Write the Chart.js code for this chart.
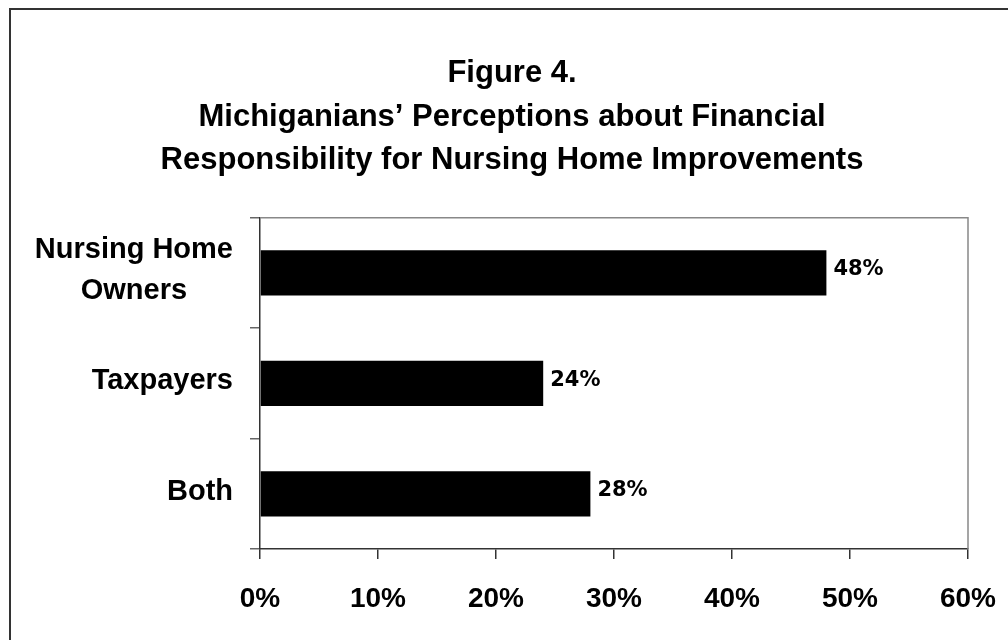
<!DOCTYPE html>
<html>
<head>
<meta charset="utf-8">
<title>Figure 4</title>
<script src="https://cdn.jsdelivr.net/npm/chart.js@4.4.1/dist/chart.umd.min.js"></script>
<style>
    html, body { margin: 0; padding: 0; background: #fff; }
    canvas { display: block; }
</style>
</head>
<body>
<canvas id="figure-chart" width="1008" height="640"></canvas>
<script>
// Chart data
const categories = [['Nursing Home', 'Owners'], ['Taxpayers'], ['Both']];
const shares = [48, 24, 28];
const xTicks = [0, 10, 20, 30, 40, 50, 60];
const titleLines = [
    'Figure 4.',
    'Michiganians\u2019 Perceptions about Financial',
    'Responsibility for Nursing Home Improvements'
];

const ARIAL = '"Liberation Sans", Arial, sans-serif';

/**
 * Frame around the figure, gray top/right edges of the plot,
 * category labels and value labels
 */
const decorations = {
    id: 'decorations',
    beforeDraw(chart) {
        const ctx = chart.ctx;
        ctx.save();
        ctx.fillStyle = '#fff';
        ctx.fillRect(0, 0, chart.width, chart.height);
        ctx.strokeStyle = '#333';
        ctx.lineWidth = 2;
        ctx.beginPath();
        ctx.moveTo(10, chart.height + 5);
        ctx.lineTo(10, 9);
        ctx.lineTo(chart.width + 5, 9);
        ctx.stroke();
        ctx.restore();
    },
    afterDraw(chart) {
        const ctx = chart.ctx;
        const area = chart.chartArea;
        const yScale = chart.scales.y;
        ctx.save();

        // gray top and right edges of the plot box
        ctx.strokeStyle = '#888';
        ctx.lineWidth = 1.5;
        ctx.beginPath();
        ctx.moveTo(area.left, area.top);
        ctx.lineTo(area.right, area.top);
        ctx.lineTo(area.right, area.bottom);
        ctx.stroke();

        // category labels: block right aligned, lines centred within it
        ctx.fillStyle = '#000';
        ctx.font = 'bold 29px ' + ARIAL;
        ctx.textAlign = 'center';
        ctx.textBaseline = 'middle';
        const labelRight = area.left - 27;
        const lineGap = 41;
        categories.forEach((lines, i) => {
            const widest = Math.max(...lines.map(l => ctx.measureText(l).width));
            const cx = labelRight - widest / 2;
            const cy = yScale.getPixelForValue(i) - 2;
            const start = cy - (lines.length - 1) * lineGap / 2;
            lines.forEach((l, j) => ctx.fillText(l, cx, start + j * lineGap));
        });

        // value labels next to the bars
        ctx.font = 'bold 21px "DejaVu Sans", Verdana, sans-serif';
        ctx.textAlign = 'left';
        const meta = chart.getDatasetMeta(0);
        meta.data.forEach((bar, i) => {
            ctx.fillText(shares[i] + '%', bar.x + 7, bar.y - 3);
        });
        ctx.restore();
    }
};

new Chart(document.getElementById('figure-chart'), {
    type: 'bar',
    data: {
        labels: categories.map(c => c.join(' ')),
        datasets: [{
            data: shares,
            backgroundColor: '#000',
            borderWidth: 0,
            barPercentage: 0.41,
            categoryPercentage: 1
        }]
    },
    options: {
        indexAxis: 'y',
        responsive: false,
        animation: false,
        layout: {
            padding: { left: 56, right: 40, top: 0, bottom: 0 }
        },
        plugins: {
            legend: { display: false },
            tooltip: { enabled: false },
            title: {
                display: true,
                text: titleLines,
                color: '#000',
                font: { family: ARIAL, size: 31, weight: 'bold', lineHeight: 1.4 },
                padding: { top: 52, bottom: 35.5 }
            }
        },
        scales: {
            x: {
                min: xTicks[0],
                max: xTicks[xTicks.length - 1],
                afterBuildTicks(scale) {
                    scale.ticks = xTicks.map(v => ({ value: v }));
                },
                afterFit(scale) {
                    scale.height = 91;
                    // edge labels may spill into the layout padding
                    scale.paddingLeft = 0;
                    scale.paddingRight = 0;
                },
                border: { display: true, color: '#333', width: 1.5 },
                grid: {
                    drawOnChartArea: false,
                    drawTicks: true,
                    tickLength: 10,
                    color: '#333',
                    lineWidth: 1.5
                },
                ticks: {
                    padding: 23,
                    color: '#000',
                    maxRotation: 0,
                    font: { family: ARIAL, size: 28, weight: 'bold' },
                    callback: function(value) {
                        return value + '%';
                    }
                }
            },
            y: {
                afterFit(scale) {
                    scale.width = 204;
                },
                border: { display: true, color: '#333', width: 1.5 },
                grid: {
                    offset: true,
                    drawOnChartArea: false,
                    drawTicks: true,
                    tickLength: 10,
                    color: '#666',
                    lineWidth: 1.5
                },
                ticks: { display: false }
            }
        }
    },
    plugins: [decorations]
});
</script>
</body>
</html>
